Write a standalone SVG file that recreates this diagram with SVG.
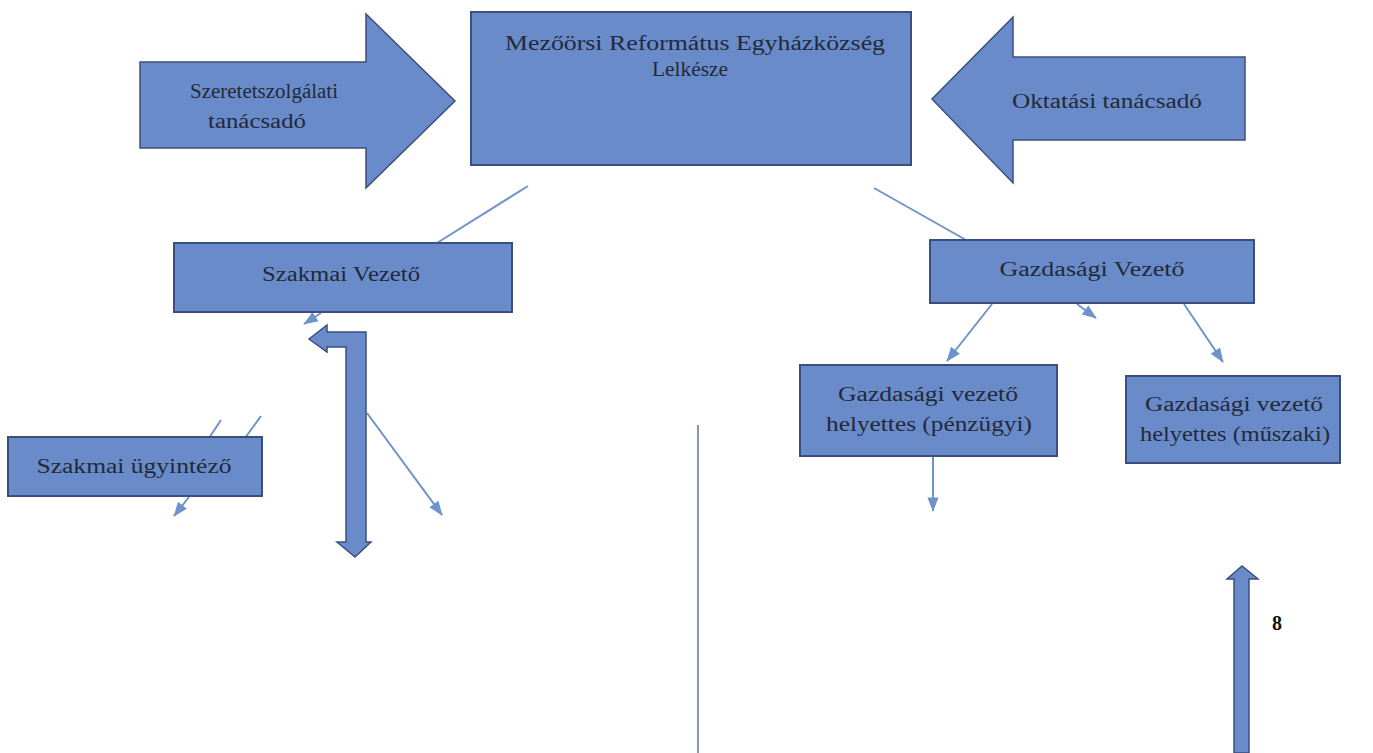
<svg xmlns="http://www.w3.org/2000/svg" width="1373" height="753" viewBox="0 0 1373 753">
<style>
.box{fill:#6a8bc9;stroke:#3b4f7e;stroke-width:2}
.big{fill:#6a8bc9;stroke:#3b4f7e;stroke-width:1.5}
.t{font-family:"Liberation Serif","Times New Roman",serif;font-size:20px;fill:#222a3a;text-anchor:middle}
.ln{stroke:#6f93c9;stroke-width:2;fill:none}
.la{stroke:#6f93c9;stroke-width:2;fill:none;marker-end:url(#ah)}
</style>
<defs>
<marker id="ah" viewBox="0 0 10 10" refX="9" refY="5" markerWidth="8" markerHeight="8" markerUnits="userSpaceOnUse" orient="auto" overflow="visible">
<path d="M-8,-2 L10,5 L-8,12 Z" fill="#6f93c9"/>
</marker>
</defs>
<rect width="1373" height="753" fill="#ffffff"/>

<g id="connectors">
<line class="ln" x1="528" y1="186" x2="437" y2="243"/>
<line class="ln" x1="874" y1="188" x2="966" y2="240"/>
<line class="la" x1="321" y1="313" x2="304" y2="324"/>
<line class="ln" x1="221" y1="420" x2="209" y2="438"/>
<line class="ln" x1="261" y1="416" x2="245" y2="438"/>
<line class="la" x1="189" y1="497" x2="174" y2="516"/>
<line class="la" x1="367" y1="413" x2="442" y2="515"/>
<line class="la" x1="992" y1="304" x2="947" y2="361"/>
<line class="la" x1="1184" y1="304" x2="1223" y2="362"/>
<line class="la" x1="1077" y1="304" x2="1096" y2="318"/>
<line class="la" x1="933" y1="457" x2="933" y2="511"/>
<line x1="698" y1="425" x2="698" y2="753" stroke="#8396b8" stroke-width="2"/>
<polygon class="big" points="309,339 327,325 327,332 366,332 366,542 371,542 355,557 337,542 346,542 346,347 327,347 327,352"/>
<polygon class="big" points="1234,753 1234,579 1227,579 1242,566 1258,579 1249,579 1249,753"/>
</g>

<g id="szeretet">
<polygon class="big" points="140,62 366,62 366,14 455,101 366,188 366,148 140,148"/>
<text class="t" x="264" y="98" textLength="148" lengthAdjust="spacingAndGlyphs">Szeretetszolgálati</text>
<text class="t" x="257" y="128" textLength="98" lengthAdjust="spacingAndGlyphs">tanácsadó</text>
</g>

<g id="lelkesz">
<rect class="box" x="471" y="12" width="440" height="153"/>
<text class="t" x="695" y="50" textLength="380" lengthAdjust="spacingAndGlyphs">Mezőörsi Református Egyházközség</text>
<text class="t" x="690" y="76" textLength="76" lengthAdjust="spacingAndGlyphs">Lelkésze</text>
</g>

<g id="oktatas">
<polygon class="big" points="1245,57 1013,57 1013,17 932,99 1013,183 1013,140 1245,140"/>
<text class="t" x="1107" y="108" textLength="190" lengthAdjust="spacingAndGlyphs">Oktatási tanácsadó</text>
</g>

<g id="szakmai-vezeto">
<rect class="box" x="174" y="243" width="338" height="69"/>
<text class="t" x="341" y="281" textLength="158" lengthAdjust="spacingAndGlyphs">Szakmai Vezető</text>
</g>

<g id="szakmai-ugyintezo">
<rect class="box" x="8" y="437" width="254" height="59"/>
<text class="t" x="134" y="473" textLength="195" lengthAdjust="spacingAndGlyphs">Szakmai ügyintéző</text>
</g>

<g id="gazdasagi-vezeto">
<rect class="box" x="930" y="240" width="324" height="63"/>
<text class="t" x="1092" y="276" textLength="185" lengthAdjust="spacingAndGlyphs">Gazdasági Vezető</text>
</g>

<g id="penzugyi">
<rect class="box" x="800" y="365" width="257" height="91"/>
<text class="t" x="928" y="401" textLength="180" lengthAdjust="spacingAndGlyphs">Gazdasági vezető</text>
<text class="t" x="929" y="431" textLength="206" lengthAdjust="spacingAndGlyphs">helyettes (pénzügyi)</text>
</g>

<g id="muszaki">
<rect class="box" x="1126" y="376" width="214" height="87"/>
<text class="t" x="1234" y="411" textLength="178" lengthAdjust="spacingAndGlyphs">Gazdasági vezető</text>
<text class="t" x="1235" y="441" textLength="190" lengthAdjust="spacingAndGlyphs">helyettes (műszaki)</text>
</g>

<text x="1277" y="630" font-family="Liberation Serif, serif" font-size="20" font-weight="bold" fill="#111" text-anchor="middle">8</text>
</svg>
